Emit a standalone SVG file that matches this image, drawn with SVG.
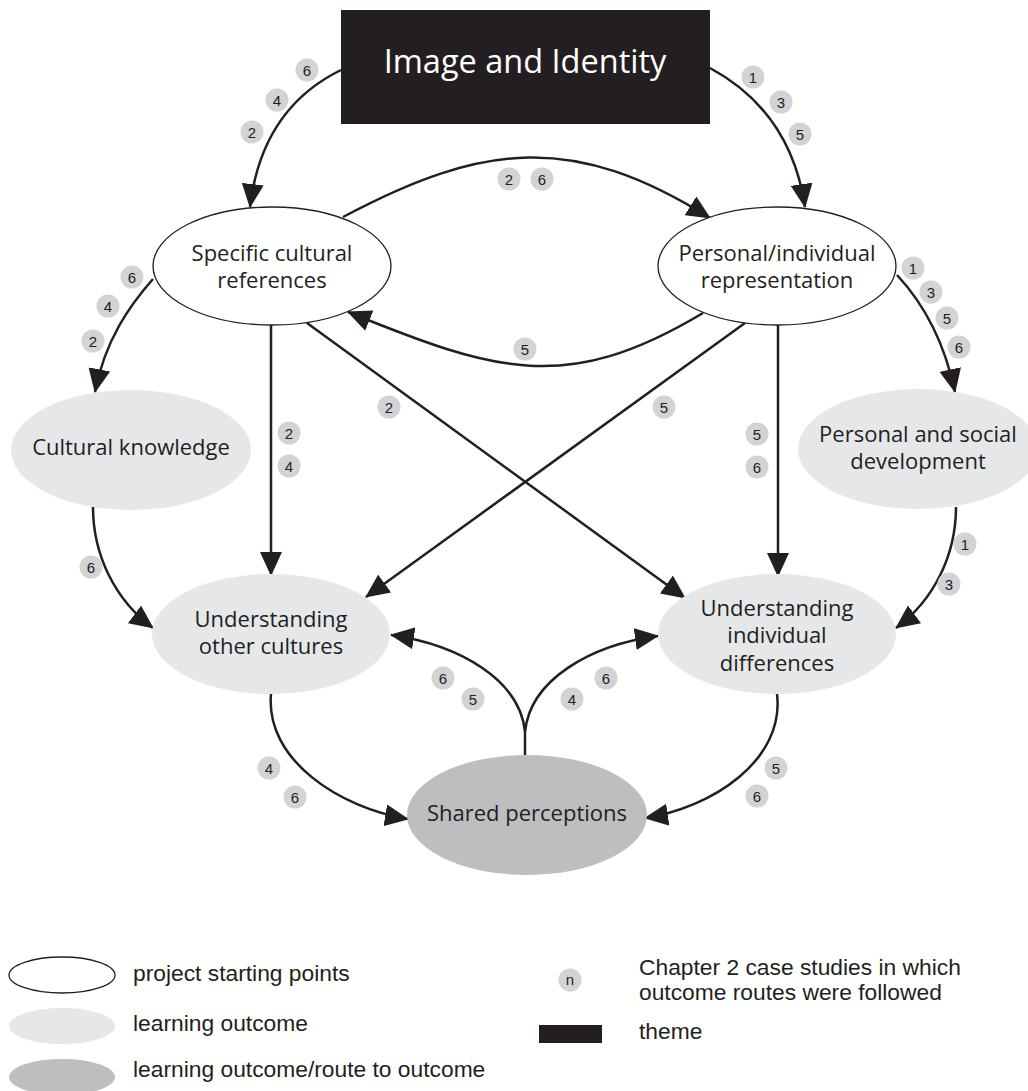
<svg xmlns="http://www.w3.org/2000/svg" width="1028" height="1091" viewBox="0 0 1028 1091">
<style>
.lbl{font-family:"Open Sans","Noto Sans",sans-serif;font-size:22px;fill:#231f20;text-anchor:middle}
.ttl{font-family:"Open Sans","Noto Sans",sans-serif;font-size:32.5px;fill:#ffffff;text-anchor:middle}
.start{fill:#ffffff;stroke:#231f20;stroke-width:1.3}
.out{fill:#e6e7e8}
.route{fill:#bcbec0}
.conn path{fill:none;stroke:#231f20;stroke-width:2.5}
.bd circle{fill:#d1d3d4}
.bd text{font-family:"Liberation Sans",Arial,sans-serif;font-size:15px;fill:#231f20;text-anchor:middle}
.leg{font-family:"Liberation Sans",Arial,sans-serif;font-size:22.8px;fill:#231f20}
</style>
<defs>
<marker id="ah" viewBox="0 0 24 22" markerWidth="24" markerHeight="22" refX="23" refY="11" orient="auto" markerUnits="userSpaceOnUse">
<path d="M0,0 L24,11 L0,22 z" fill="#231f20"/>
</marker>
</defs>

<g id="connectors" class="conn">
<path d="M341,70 C290,95 258,140 250,207" marker-end="url(#ah)"/>
<path d="M710,68 C760,95 795,140 805,207" marker-end="url(#ah)"/>
<path d="M343,217 C484,142 574,133 710,218" marker-end="url(#ah)"/>
<path d="M703,313 C566,395 496,372 348,312" marker-end="url(#ah)"/>
<path d="M153,279 C130,305 105,340 95,392" marker-end="url(#ah)"/>
<path d="M897,275 C925,305 945,345 955,392" marker-end="url(#ah)"/>
<path d="M271,325 L271,575" marker-end="url(#ah)"/>
<path d="M307,323 L685,598" marker-end="url(#ah)"/>
<path d="M745,323 L366,597" marker-end="url(#ah)"/>
<path d="M778,325 L778,576" marker-end="url(#ah)"/>
<path d="M93,507 C93,555 115,600 153,628" marker-end="url(#ah)"/>
<path d="M956,507 C956,555 934,600 896,628" marker-end="url(#ah)"/>
<path d="M271,694 C265,760 340,808 408,819" marker-end="url(#ah)"/>
<path d="M777,694 C785,760 712,808 645,818" marker-end="url(#ah)"/>
<path d="M525,755 L525,732"/>
<path d="M525,732 C520,680 460,645 391,635" marker-end="url(#ah)"/>
<path d="M525,732 C530,680 590,645 658,636" marker-end="url(#ah)"/>
</g>

<g id="theme">
<rect x="341" y="10" width="369" height="114" fill="#231f20"/>
<text class="ttl" x="525" y="73">Image and Identity</text>
</g>
<g id="specific-cultural-references">
<ellipse class="start" cx="272" cy="266" rx="119" ry="59"/>
<text class="lbl" x="272" y="261">Specific cultural</text>
<text class="lbl" x="272" y="288">references</text>
</g>
<g id="personal-individual-representation">
<ellipse class="start" cx="777" cy="266" rx="119" ry="59"/>
<text class="lbl" x="777" y="261">Personal/individual</text>
<text class="lbl" x="777" y="288">representation</text>
</g>
<g id="cultural-knowledge">
<ellipse class="out" cx="131" cy="450" rx="120" ry="60"/>
<text class="lbl" x="131" y="455">Cultural knowledge</text>
</g>
<g id="personal-social-development">
<ellipse class="out" cx="918" cy="449" rx="120" ry="60"/>
<text class="lbl" x="918" y="442">Personal and social</text>
<text class="lbl" x="918" y="469">development</text>
</g>
<g id="understanding-other-cultures">
<ellipse class="out" cx="271" cy="634" rx="119" ry="60"/>
<text class="lbl" x="271" y="627">Understanding</text>
<text class="lbl" x="271" y="654">other cultures</text>
</g>
<g id="understanding-individual-differences">
<ellipse class="out" cx="777" cy="634" rx="119" ry="60"/>
<text class="lbl" x="777" y="616">Understanding</text>
<text class="lbl" x="777" y="643">individual</text>
<text class="lbl" x="777" y="671">differences</text>
</g>
<g id="shared-perceptions">
<ellipse class="route" cx="527" cy="815" rx="120" ry="60"/>
<text class="lbl" x="527" y="821">Shared perceptions</text>
</g>

<g id="badges" class="bd">
<circle cx="307" cy="70" r="11.5"/><text x="307" y="75.5">6</text>
<circle cx="277" cy="100" r="11.5"/><text x="277" y="105.5">4</text>
<circle cx="252" cy="132" r="11.5"/><text x="252" y="137.5">2</text>
<circle cx="753" cy="77" r="11.5"/><text x="753" y="82.5">1</text>
<circle cx="781" cy="102" r="11.5"/><text x="781" y="107.5">3</text>
<circle cx="800" cy="134" r="11.5"/><text x="800" y="139.5">5</text>
<circle cx="509" cy="179" r="11.5"/><text x="509" y="184.5">2</text>
<circle cx="542" cy="179" r="11.5"/><text x="542" y="184.5">6</text>
<circle cx="525" cy="349" r="11.5"/><text x="525" y="354.5">5</text>
<circle cx="132" cy="277" r="11.5"/><text x="132" y="282.5">6</text>
<circle cx="108" cy="306" r="11.5"/><text x="108" y="311.5">4</text>
<circle cx="93" cy="341" r="11.5"/><text x="93" y="346.5">2</text>
<circle cx="913" cy="268" r="11.5"/><text x="913" y="273.5">1</text>
<circle cx="931" cy="292" r="11.5"/><text x="931" y="297.5">3</text>
<circle cx="947" cy="318" r="11.5"/><text x="947" y="323.5">5</text>
<circle cx="959" cy="347" r="11.5"/><text x="959" y="352.5">6</text>
<circle cx="389" cy="407" r="11.5"/><text x="389" y="412.5">2</text>
<circle cx="289" cy="433" r="11.5"/><text x="289" y="438.5">2</text>
<circle cx="289" cy="466" r="11.5"/><text x="289" y="471.5">4</text>
<circle cx="664" cy="407" r="11.5"/><text x="664" y="412.5">5</text>
<circle cx="757" cy="434" r="11.5"/><text x="757" y="439.5">5</text>
<circle cx="757" cy="467" r="11.5"/><text x="757" y="472.5">6</text>
<circle cx="91" cy="567" r="11.5"/><text x="91" y="572.5">6</text>
<circle cx="965" cy="544" r="11.5"/><text x="965" y="549.5">1</text>
<circle cx="949" cy="584" r="11.5"/><text x="949" y="589.5">3</text>
<circle cx="443" cy="678" r="11.5"/><text x="443" y="683.5">6</text>
<circle cx="473" cy="699" r="11.5"/><text x="473" y="704.5">5</text>
<circle cx="606" cy="678" r="11.5"/><text x="606" y="683.5">6</text>
<circle cx="572" cy="699" r="11.5"/><text x="572" y="704.5">4</text>
<circle cx="269" cy="768" r="11.5"/><text x="269" y="773.5">4</text>
<circle cx="295" cy="797" r="11.5"/><text x="295" y="802.5">6</text>
<circle cx="776" cy="768" r="11.5"/><text x="776" y="773.5">5</text>
<circle cx="757" cy="796" r="11.5"/><text x="757" y="801.5">6</text>
</g>

<g id="legend">
<ellipse class="start" cx="62" cy="975" rx="53" ry="18"/>
<text class="leg" x="133" y="981">project starting points</text>
<ellipse class="out" cx="62" cy="1026" rx="53" ry="18"/>
<text class="leg" x="133" y="1031">learning outcome</text>
<ellipse class="route" cx="62" cy="1077" rx="53" ry="18"/>
<text class="leg" x="133" y="1077">learning outcome/route to outcome</text>
<g class="bd"><circle cx="570" cy="980" r="11.5"/><text x="570" y="985">n</text></g>
<text class="leg" x="639" y="975">Chapter 2 case studies in which</text>
<text class="leg" x="639" y="1000">outcome routes were followed</text>
<rect x="539" y="1025" width="63" height="18" fill="#231f20"/>
<text class="leg" x="639" y="1039">theme</text>
</g>
</svg>
